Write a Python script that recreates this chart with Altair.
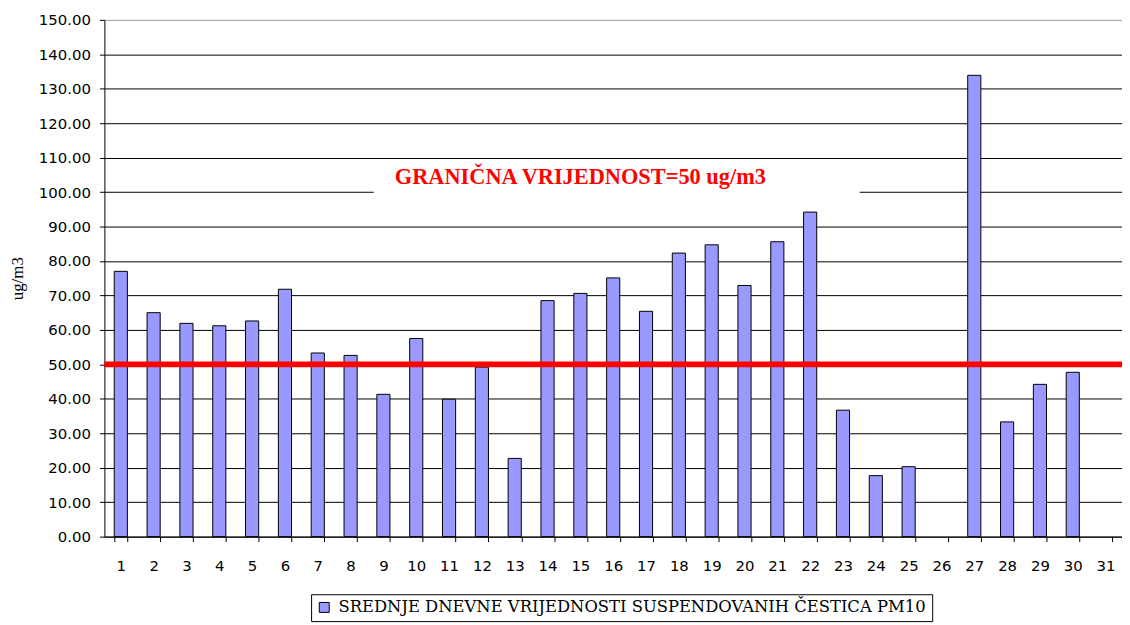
import altair as alt
import pandas as pd

days = list(range(1, 32))
pm10 = [77.0, 65.0, 61.9, 61.2, 62.6, 71.8, 53.3, 52.6, 41.3, 57.5,
        39.9, 49.2, 22.7, 68.5, 70.6, 75.1, 65.4, 82.3, 84.7, 72.9,
        85.6, 94.2, 36.7, 17.7, 20.3, None, 133.9, 33.3, 44.2, 47.7, None]
series_name = "SREDNJE DNEVNE VRIJEDNOSTI SUSPENDOVANIH ČESTICA PM10"
y_ticks = list(range(0, 151, 10))
limit_value = [50]
limit_label = "GRANIČNA VRIJEDNOST=50 ug/m3"
label_box = [96, 108]

df = pd.DataFrame({"day": days, "value": pm10, "series": [series_name] * len(days)})
limit_df = pd.DataFrame({"limit": limit_value})

xscale = alt.Scale(domain=days, paddingInner=0.6, paddingOuter=0.3)
yscale = alt.Scale(domain=[0, 150], nice=False)
y_axis = alt.Axis(title="ug/m3", values=y_ticks, format=".2f", grid=True,
                  labelOverlap=False, tickCount=16,
                  gridColor=alt.condition(alt.datum.value == 150,
                                          alt.value("#999999"), alt.value("#000000")),
                  labelPadding=9, titlePadding=12)

bars = alt.Chart(df).mark_bar(stroke="black", strokeWidth=1).encode(
    x=alt.X("day:O", scale=xscale,
            axis=alt.Axis(title=None, labelAngle=0, tickBand="extent", grid=False,
                          labelOverlap=False, labelPadding=17)),
    y=alt.Y("value:Q", scale=yscale, axis=y_axis),
    color=alt.Color("series:N", scale=alt.Scale(range=["#9999FF"]),
                    legend=alt.Legend(title=None, orient="none", legendX=208, legendY=578,
                                      direction="horizontal", strokeColor="black",
                                      fillColor="white", padding=5, symbolType="square",
                                      symbolSize=100, symbolStrokeColor="black",
                                      symbolStrokeWidth=1, labelFont="DejaVu Serif",
                                      labelFontSize=16.5, labelColor="black", labelLimit=1000,
                                      labelOffset=6, cornerRadius=0)),
)

box = alt.Chart(pd.DataFrame({"a": [0]})).mark_rect(color="white").encode(
    x=alt.value(271), x2=alt.value(760),
    y=alt.Y(datum=label_box[0], type="quantitative", scale=yscale, axis=y_axis),
    y2=alt.datum(label_box[1]),
)

text = alt.Chart(pd.DataFrame({"a": [0]})).mark_text(
    font="Liberation Serif", fontSize=22.5, fontWeight="bold", color="#FF0000",
    align="center", baseline="middle",
).encode(
    x=alt.X(datum=15, type="ordinal"),
    y=alt.Y(datum=104.3, type="quantitative", scale=yscale, axis=y_axis),
    text=alt.value(limit_label),
)

rule = alt.Chart(limit_df).mark_rule(color="#FF0000", strokeWidth=6).encode(
    y=alt.Y("limit:Q", scale=yscale, axis=y_axis),
)

chart = alt.layer(bars, box, text, rule).properties(
    width=1024, height=520,
    autosize=alt.AutoSizeParams(type="none"),
    padding={"left": 97, "top": 10, "right": 0, "bottom": 86},
).configure_view(stroke=None).configure_axis(
    labelFont="DejaVu Sans", labelFontSize=15, labelColor="black",
    domainColor="black", tickColor="black", tickSize=5, domainWidth=1,
    gridOpacity=1, gridWidth=1,
    titleFont="Liberation Serif", titleFontSize=17, titleFontWeight="normal",
    titleColor="black",
)

chart.save("out.html", embed_options={"renderer": "svg", "actions": False})
